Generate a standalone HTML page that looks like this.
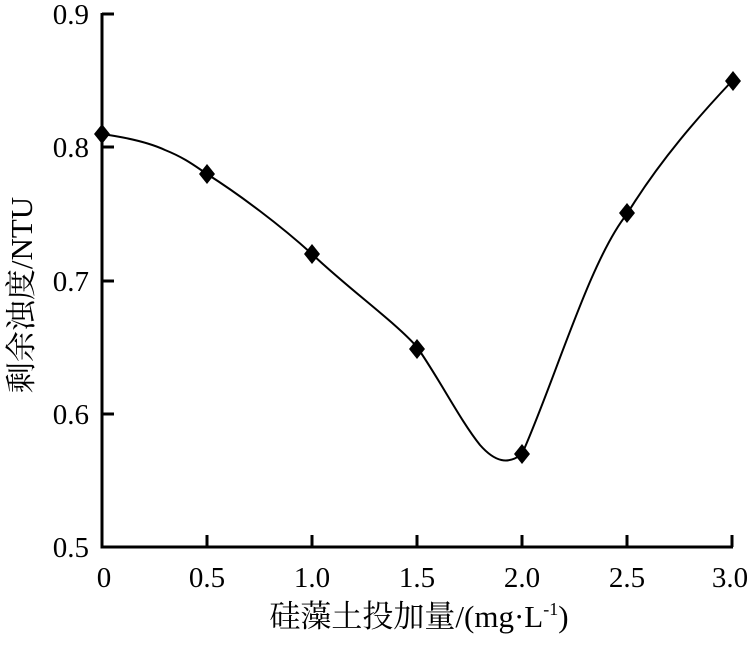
<!DOCTYPE html>
<html><head><meta charset="utf-8"><style>body{margin:0;background:#fff}</style></head><body>
<svg width="750" height="643" xmlns="http://www.w3.org/2000/svg" font-family="Liberation Serif, Noto Serif CJK SC, serif" fill="#000">
<g stroke="#000" stroke-width="3" fill="none">
<path d="M102,13 V547 H733"/>
<path d="M102,14 h12 M102,147 h12 M102,281 h12 M102,414 h12"/>
<path d="M207,547 v-12 M312,547 v-12 M417,547 v-12 M522,547 v-12 M627,547 v-12 M732,547 v-12"/>
</g>
<path d="M102,134 C130,138 150,143 165,150 C185,158 195,166 207,174 C240,195 280,225 312,254 C350,290 395,322 417,347 C440,380 460,420 480,445 C495,462 508,465 522,454 C555,380 590,260 627,214 C660,160 700,115 732,81" stroke="#000" stroke-width="2" fill="none"/>
<g>
<path d="M102,124 l8,10 l-8,10 l-8,-10z"/>
<path d="M207,164 l8,10 l-8,10 l-8,-10z"/>
<path d="M312,244 l8,10 l-8,10 l-8,-10z"/>
<path d="M417,339 l8,10 l-8,10 l-8,-10z"/>
<path d="M522,444 l8,10 l-8,10 l-8,-10z"/>
<path d="M627,203 l8,10 l-8,10 l-8,-10z"/>
<path d="M733,71 l8,10 l-8,10 l-8,-10z"/>
</g>
<g font-size="29" text-anchor="end">
<text x="89" y="24">0.9</text><text x="89" y="157">0.8</text><text x="89" y="291">0.7</text><text x="89" y="424">0.6</text><text x="89" y="557">0.5</text>
</g>
<g font-size="29" text-anchor="middle">
<text x="104" y="587">0</text><text x="207" y="587">0.5</text><text x="312" y="587">1.0</text><text x="417" y="587">1.5</text><text x="522" y="587">2.0</text><text x="627" y="587">2.5</text><text x="730" y="587">3.0</text>
</g>
<text x="419" y="627" font-size="31" text-anchor="middle">硅藻土投加量/(mg·L<tspan font-size="18" dy="-12">-1</tspan><tspan dy="12">)</tspan></text>
<text transform="translate(32,295) rotate(-90)" font-size="31" text-anchor="middle">剩余浊度/NTU</text>
</svg>
</body></html>
